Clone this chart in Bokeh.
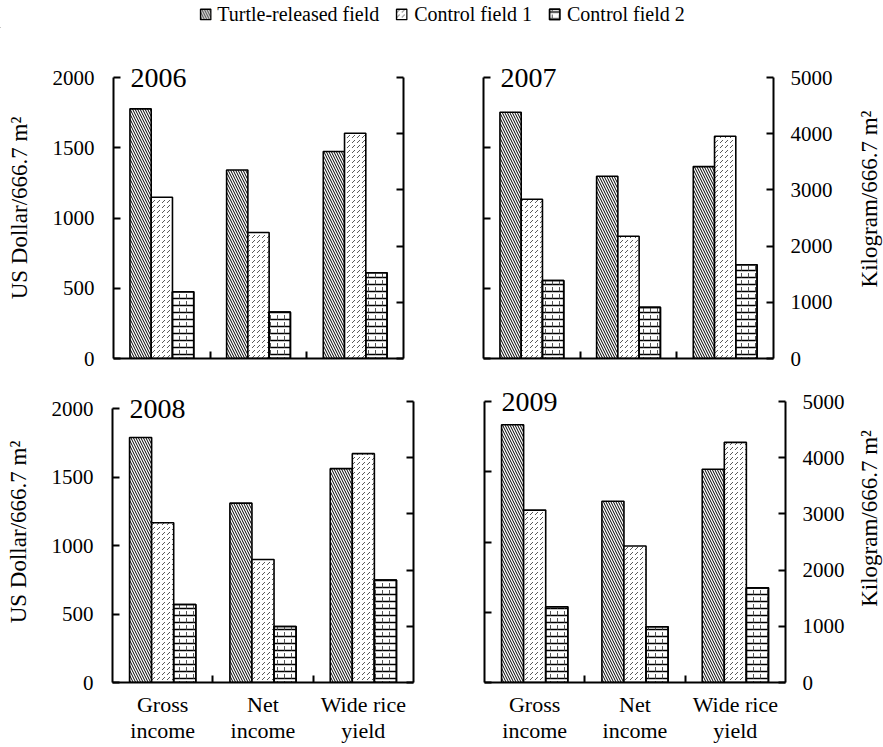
import math
from bokeh.plotting import figure
from bokeh.models import (Range1d, LinearAxis, FixedTicker, Label, Legend,
                          LegendItem, ColumnDataSource)
from bokeh.core.properties import value
from bokeh.layouts import column, row
from bokeh.transform import dodge
from bokeh.embed import file_html
from bokeh.resources import INLINE

# ---------------- data ----------------
years = ["2006", "2007", "2008", "2009"]
series = ["Turtle-released field", "Control field 1", "Control field 2"]
categories = ["Gross\nincome", "Net\nincome", "Wide rice\nyield"]
usd_ticks = [0, 500, 1000, 1500, 2000]
kg_ticks = [0, 1000, 2000, 3000, 4000, 5000]

# US Dollar / 666.7 m2   (one value per year)
turtle_gross = [1777, 1753, 1788, 1835]
control1_gross = [1148, 1133, 1166, 1227]
control2_gross = [475, 555, 569, 539]
turtle_net = [1342, 1297, 1309, 1290]
control1_net = [897, 870, 898, 972]
control2_net = [330, 364, 409, 397]
# Kilogram / 666.7 m2
turtle_rice = [3683, 3415, 3805, 3794]
control1_rice = [4009, 3955, 4072, 4273]
control2_rice = [1525, 1669, 1823, 1684]

gross = [turtle_gross, control1_gross, control2_gross]
net = [turtle_net, control1_net, control2_net]
rice = [turtle_rice, control1_rice, control2_rice]

# ---------------- style ----------------
FONT = "Liberation Serif"
BAR_W = 0.22
offsets = [-BAR_W, 0.0, BAR_W]
styles = [
    dict(hatch_pattern="\\", hatch_scale=5, hatch_weight=1, hatch_color="black"),
    dict(hatch_pattern=",", hatch_scale=5, hatch_weight=0.9, hatch_color="#444444"),
    dict(hatch_pattern="-", hatch_scale=7, hatch_weight=1.5, hatch_color="black"),
]
overlay_c2 = dict(hatch_pattern=":", hatch_scale=7, hatch_weight=1, hatch_color="#555555")

FRAME_PX = 301       # frame height in px (axes stop a little below the top)
AXIS_PX = 281        # length of the drawn axes
USD_TOP = 2000
KG_TOP = 5000

def style_axis(ax):
    ax.axis_line_width = 2
    ax.axis_line_color = "black"
    ax.major_tick_line_width = 2
    ax.major_tick_line_color = "black"
    ax.major_tick_in = 7
    ax.major_tick_out = 0
    ax.minor_tick_line_color = None
    ax.major_label_text_font = FONT
    ax.major_label_text_font_size = "21px"
    ax.major_label_text_color = "black"
    ax.axis_label_text_font = FONT
    ax.axis_label_text_font_style = "normal"
    ax.axis_label_text_font_size = "23px"
    ax.axis_label_text_color = "black"

def hide_labels(ax, ticks):
    ax.major_label_overrides = {t: "" for t in ticks}
    ax.major_label_text_font_size = "0px"

def make_panel(k, width, height, borders, show_left, show_right, show_cat, usd_axis_px):
    bl, br, bt, bb = borders
    usd_end = USD_TOP * FRAME_PX / usd_axis_px
    kg_end = KG_TOP * FRAME_PX / AXIS_PX
    p = figure(width=width, height=height, x_range=Range1d(0, 3),
               y_range=Range1d(0, usd_end), output_backend="svg",
               toolbar_location=None, min_border_left=bl, min_border_right=br,
               min_border_top=bt, min_border_bottom=bb)
    p.extra_y_ranges = {"kg": Range1d(0, kg_end)}
    p.outline_line_color = None
    p.grid.visible = False
    p.background_fill_color = "white"
    p.border_fill_color = "white"

    xs_inc = [i + 0.5 for i in range(2)]
    xs_rice = [2 + 0.5]
    for s in range(3):
        src_inc = ColumnDataSource(dict(x=xs_inc, top=[gross[s][k], net[s][k]]))
        src_rice = ColumnDataSource(dict(x=xs_rice, top=[rice[s][k]]))
        for src, rng in ((src_inc, "default"), (src_rice, "kg")):
            p.vbar(x=dodge("x", offsets[s]), top="top", bottom=0, width=BAR_W,
                   source=src, y_range_name=rng, fill_color="white",
                   line_color="black", line_width=1.6, **styles[s])
            if s == 2:
                p.vbar(x=dodge("x", offsets[s]), top="top", bottom=0, width=BAR_W,
                       source=src, y_range_name=rng, fill_color=None,
                       line_color="black", line_width=1.6, **overlay_c2)

    # left axis (USD)
    ya = p.yaxis[0]
    style_axis(ya)
    ya.ticker = FixedTicker(ticks=usd_ticks)
    ya.bounds = (0, USD_TOP)
    ya.major_label_standoff = 19
    if show_left:
        ya.axis_label = "US Dollar/666.7 m\u00b2"
        ya.axis_label_standoff = 18
    else:
        hide_labels(ya, usd_ticks)

    # right axis (kg)
    ra = LinearAxis(y_range_name="kg", ticker=FixedTicker(ticks=kg_ticks))
    style_axis(ra)
    ra.bounds = (0, KG_TOP)
    ra.major_label_standoff = 17
    if not show_right:
        hide_labels(ra, kg_ticks)
    p.add_layout(ra, "right")

    # bottom axis
    xa = p.xaxis[0]
    style_axis(xa)
    major = [i + 0.5 for i in range(3)]
    xa.ticker = FixedTicker(ticks=major, minor_ticks=[1, 2])
    xa.major_tick_line_color = None
    xa.minor_tick_line_color = "black"
    xa.minor_tick_line_width = 2
    xa.minor_tick_in = 7
    xa.minor_tick_out = 0
    xa.major_label_standoff = 9
    if show_cat:
        xa.major_label_overrides = {m: c for m, c in zip(major, categories)}
        xa.major_label_text_font_size = "22px"
        xa.major_label_text_line_height = 1.05
    else:
        hide_labels(xa, major)

    p.add_layout(Label(x=0, y=USD_TOP, x_offset=17, text=years[k],
                       text_baseline="middle", text_align="left",
                       text_font=FONT, text_font_size="28px",
                       text_color="black"))
    return p

def make_title_fig(text, height, bt, bb, frac):
    t = figure(width=28, height=height, x_range=Range1d(0, 1), y_range=Range1d(0, 1),
               x_axis_type=None, y_axis_type=None, output_backend="svg",
               toolbar_location=None, min_border_left=0, min_border_right=0,
               min_border_top=bt, min_border_bottom=bb)
    t.outline_line_color = None
    t.grid.visible = False
    t.add_layout(Label(x=0.5, y=frac, text=text, angle=math.pi / 2,
                       text_align="center", text_baseline="middle",
                       text_font=FONT, text_font_size="23px", text_color="black"))
    return t

KG_LABEL = "Kilogram/666.7 m\u00b2"

# top row (figure height 352: borders 29 / 22)
p1 = make_panel(0, 443, 352, (113, 40, 29, 22), True, False, False, AXIS_PX)
p2 = make_panel(1, 412, 352, (40, 82, 29, 22), False, True, False, AXIS_PX)
t2 = make_title_fig(KG_LABEL, 352, 29, 22, 0.53)
# bottom row (figure height 367: borders 1 / 65)
p3 = make_panel(2, 448, 367, (112, 35, 1, 65), True, False, True, 274)
p4 = make_panel(3, 407, 367, (36, 70, 1, 65), False, True, True, AXIS_PX)
t4 = make_title_fig(KG_LABEL, 367, 1, 65, 0.545)

# legend strip
lg = figure(width=883, height=28, x_range=Range1d(0, 1), y_range=Range1d(0, 1),
            output_backend="svg", toolbar_location=None, x_axis_type=None,
            y_axis_type=None, min_border=0)
lg.outline_line_color = None
lg.grid.visible = False
items = []
for s in range(3):
    # legend proxies: placed outside the visible range, only their style is shown
    proxy = ColumnDataSource(dict(x=[-5], top=[0]))
    rs = [lg.vbar(x="x", top="top", bottom=0, width=0.1, source=proxy,
                  fill_color="white", line_color="black", line_width=1.4, **styles[s])]
    if s == 2:
        rs.append(lg.vbar(x="x", top="top", bottom=0, width=0.1, source=proxy,
                          fill_color=None, line_color="black", line_width=1.4,
                          **overlay_c2))
    items.append(LegendItem(label=value(series[s]), renderers=rs))
legend = Legend(items=items, orientation="horizontal", location="center",
                label_text_font=FONT, label_text_font_size="20px",
                label_text_color="black", glyph_width=13, glyph_height=13,
                label_standoff=6, spacing=16, padding=0, margin=0,
                label_height=20, border_line_color=None, background_fill_alpha=0)
lg.add_layout(legend, "center")

layout = column(lg, row(p1, p2, t2), row(p3, p4, t4))
open("out.html", "w").write(file_html(layout, INLINE))
